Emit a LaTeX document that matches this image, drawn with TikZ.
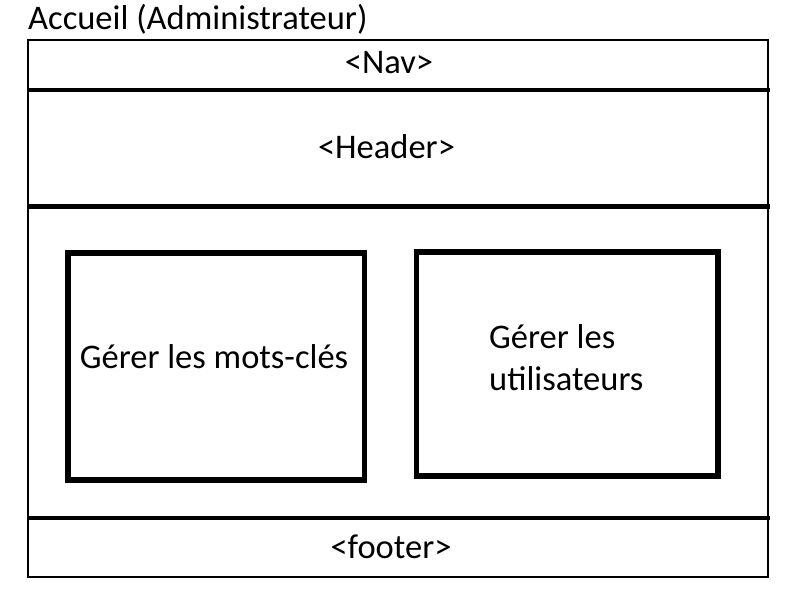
\documentclass[tikz,border=0pt]{standalone}
\usepackage{fontspec}
\setmainfont{Carlito}
\begin{document}
\begin{tikzpicture}[x=1pt,y=-1pt,
  sep/.style={line width=4.5pt},
  outer/.style={draw,line width=2pt},
  card/.style={draw,line width=5.5pt},
  lbl/.style={font=\fontsize{34.5}{42}\selectfont,inner sep=0pt}]
\useasboundingbox (0,0) rectangle (800,600);
\draw[outer] (28,40) rectangle (768,577);
\coordinate (l1a) at (28,90); \coordinate (l1b) at (770,90);
\coordinate (l2a) at (28,206.5); \coordinate (l2b) at (770,206.5);
\coordinate (l3a) at (28,518); \coordinate (l3b) at (770,518);
\draw[sep] (l1a) -- (l1b);
\draw[sep] (l2a) -- (l2b);
\draw[sep] (l3a) -- (l3b);
\draw[card] (68,253) rectangle (364.5,480);
\draw[card] (416.5,252) rectangle (718,476);
\node[lbl,anchor=base west] (title) at (28,29) {Accueil (Administrateur)};
\node[lbl,anchor=base] (nav) at (389,73) {<Nav>};
\node[lbl,anchor=base] (header) at (386.5,158) {<Header>};
\node[lbl,anchor=base] (kw) at (214,368) {Gérer les mots-clés};
\node[lbl,anchor=base west] (users1) at (489,348) {Gérer les};
\node[lbl,anchor=base west] (users2) at (489,390) {utilisateurs};
\node[lbl,anchor=base] (footer) at (391,558) {<footer>};
\end{tikzpicture}
\end{document}
